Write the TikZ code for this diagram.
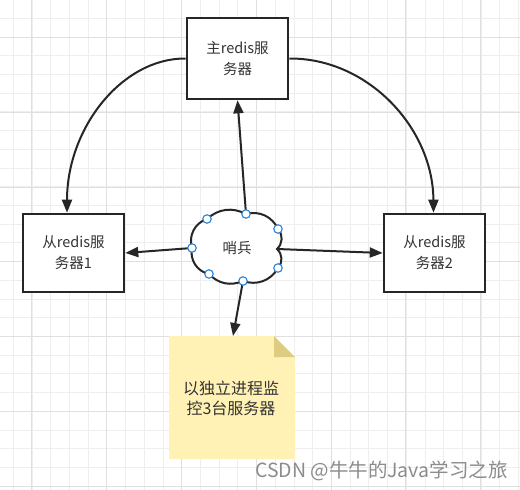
\documentclass[tikz,border=0pt]{standalone}
\usepackage{fontspec}
\setmainfont{Noto Sans CJK SC}
\usetikzlibrary{arrows.meta,calc}
\definecolor{gridminor}{RGB}{238,238,238}
\definecolor{gridmajor}{RGB}{224,224,224}
\definecolor{ink}{RGB}{38,38,38}
\definecolor{txt}{RGB}{51,51,51}
\definecolor{notefill}{RGB}{255,242,180}
\definecolor{notefold}{RGB}{222,204,130}
\definecolor{handle}{RGB}{41,128,214}
\definecolor{wm}{RGB}{140,140,140}
\tikzset{
  server/.style={draw=ink, line width=2.6pt, fill=white, minimum width=101pt, minimum height=#1, inner sep=0pt, align=center, text=txt, font=\fontsize{14.5}{21}\selectfont},
  link/.style={draw=ink, line width=2pt, -{Triangle[length=13pt,width=10pt]}},
  handlept/.style={circle, draw=handle, fill=white, line width=1.1pt, minimum size=8.5pt, inner sep=0pt},
  lbl/.style={text=txt, align=center, font=\fontsize{14.5}{21}\selectfont}
}
\begin{document}
\begin{tikzpicture}[x=1pt,y=-1pt]
\useasboundingbox (0,0) rectangle (520,490);
\fill[white] (0,0) rectangle (520,490);
% grid
\foreach \i in {0,...,27} {
  \draw[gridminor, line width=0.8pt] ({13.3+18.71*\i},0) -- ({13.3+18.71*\i},490);
  \draw[gridminor, line width=0.8pt] (0,{-0.4+18.71*\i}) -- (520,{-0.4+18.71*\i});
}
\foreach \i in {0,...,6} {
  \draw[gridmajor, line width=0.9pt] ({31.7+74.84*\i},0) -- ({31.7+74.84*\i},490);
  \draw[gridmajor, line width=0.9pt] (0,{37.3+74.84*\i}) -- (520,{37.3+74.84*\i});
}
% servers
\node[server=81pt] (m) at (237.5,58.5) {主redis服\\务器};
\node[server=78pt] (s1) at (73.5,253) {从redis服\\务器1};
\node[server=78pt] (s2) at (434.5,253) {从redis服\\务器2};
% note
\coordinate (ntl) at (169,336);
\coordinate (nf1) at (274,336);
\coordinate (nf2) at (295,357);
\coordinate (nbr) at (295,459);
\coordinate (ntop) at (233,336);
\fill[notefill] (ntl) -- (nf1) -- (nf2) -- (nbr) -- (169,459) -- cycle;
\fill[notefold] (nf1) -- (274,357) -- (nf2) -- cycle;
\node[lbl, font=\fontsize{16}{20}\selectfont] (nt) at (231,398) {以独立进程监\\控3台服务器};
% cloud
\coordinate (c1) at (192,248);
\coordinate (c2) at (207,219);
\coordinate (c3) at (246,214);
\coordinate (c4) at (278,229);
\coordinate (c5) at (277,249);
\coordinate (c6) at (278,268);
\coordinate (c7) at (243,281);
\coordinate (c8) at (209,274);
\draw[ink, line width=2pt, fill=white] (c1) to[bend left=45] (c2) to[bend left=35] (c3)
  to[bend left=40] (c4) to[bend left=45] (c5) to[bend left=45] (c6) to[bend left=40] (c7)
  to[bend left=35] (c8) to[bend left=45] (c1) -- cycle;
\node[lbl] (sb) at (237,248) {哨兵};
% connectors
\draw[link] (m.west) .. controls (122,58) and (67,128) .. ([xshift=-6.5pt]s1.north);
\draw[link] (m.east) .. controls (368,58) and (433,128) .. ([xshift=-1pt]s2.north);
\draw[link] (c3) -- (m.south);
\draw[link] (c1) -- (s1.east);
\draw[link] (c5) -- (s2.west);
\draw[link] (c7) -- (ntop);
% handles
\foreach \c in {c1,c2,c3,c4,c6,c7,c8} \node[handlept] at (\c) {};
% watermark
\node[text=wm, font=\fontsize{19.5}{21}\selectfont, anchor=west, inner sep=0pt] (wmk) at (255,471) {CSDN @牛牛的Java学习之旅};
\end{tikzpicture}
\end{document}
